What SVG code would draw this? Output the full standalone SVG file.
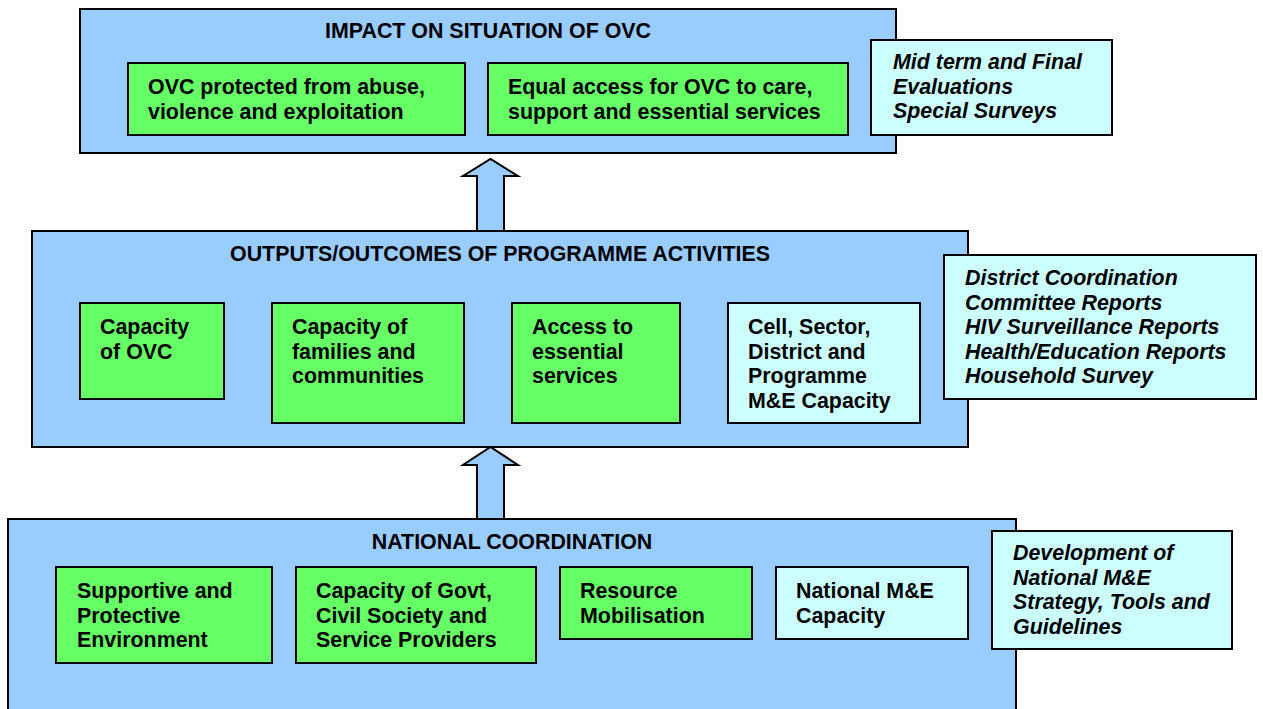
<svg xmlns="http://www.w3.org/2000/svg" width="1263" height="709" viewBox="0 0 1263 709">
<style>
.frame{fill:#99CCFF;stroke:#000;stroke-width:2}
.g{fill:#66FF66;stroke:#000;stroke-width:2}
.c{fill:#CCFFFF;stroke:#000;stroke-width:2}
.arrow{fill:#99CCFF;stroke:#000;stroke-width:2;stroke-linejoin:miter}
text{font-family:"Liberation Sans",Arial,sans-serif;font-weight:bold;font-size:21.4px;fill:#000}
.i{font-style:italic}
.t{text-anchor:middle}
</style>
<rect width="1263" height="709" fill="#fff"/>
<g id="impact">
<rect class="frame" x="80" y="9" width="816" height="144"/>
<text class="t" x="488" y="38">IMPACT ON SITUATION OF OVC</text>
</g>
<g id="protected">
<rect class="g" x="128" y="63" width="337" height="72"/>
<text x="148" y="94">OVC protected from abuse,</text>
<text x="148" y="118.5">violence and exploitation</text>
</g>
<g id="equal-access">
<rect class="g" x="488" y="63" width="360" height="72"/>
<text x="508" y="94">Equal access for OVC to care,</text>
<text x="508" y="118.5">support and essential services</text>
</g>
<g id="evaluations">
<rect class="c" x="871" y="40" width="241" height="95"/>
<text class="i" x="893" y="69">Mid term and Final</text>
<text class="i" x="893" y="93.5">Evaluations</text>
<text class="i" x="893" y="118">Special Surveys</text>
</g>
<g id="outputs">
<rect class="frame" x="32" y="231" width="936" height="216"/>
<text class="t" x="500" y="261">OUTPUTS/OUTCOMES OF PROGRAMME ACTIVITIES</text>
</g>
<g id="capacity-ovc">
<rect class="g" x="80" y="303" width="144" height="96"/>
<text x="100" y="334">Capacity</text>
<text x="100" y="358.5">of OVC</text>
</g>
<g id="capacity-families">
<rect class="g" x="272" y="303" width="192" height="120"/>
<text x="292" y="334">Capacity of</text>
<text x="292" y="358.5">families and</text>
<text x="292" y="383">communities</text>
</g>
<g id="access">
<rect class="g" x="512" y="303" width="168" height="120"/>
<text x="532" y="334">Access to</text>
<text x="532" y="358.5">essential</text>
<text x="532" y="383">services</text>
</g>
<g id="cell-me">
<rect class="c" x="728" y="303" width="192" height="120"/>
<text x="748" y="334">Cell, Sector,</text>
<text x="748" y="358.5">District and</text>
<text x="748" y="383">Programme</text>
<text x="748" y="407.5">M&amp;E Capacity</text>
</g>
<g id="district-reports">
<rect class="c" x="944" y="255" width="312" height="144"/>
<text class="i" x="965" y="285">District Coordination</text>
<text class="i" x="965" y="309.5">Committee Reports</text>
<text class="i" x="965" y="334">HIV Surveillance Reports</text>
<text class="i" x="965" y="358.5">Health/Education Reports</text>
<text class="i" x="965" y="383">Household Survey</text>
</g>
<g id="national">
<rect class="frame" x="8" y="519" width="1008" height="210"/>
<text class="t" x="512" y="549">NATIONAL COORDINATION</text>
</g>
<g id="supportive">
<rect class="g" x="56" y="567" width="216" height="96"/>
<text x="77" y="598">Supportive and</text>
<text x="77" y="622.5">Protective</text>
<text x="77" y="647">Environment</text>
</g>
<g id="capacity-govt">
<rect class="g" x="296" y="567" width="240" height="96"/>
<text x="316" y="598">Capacity of Govt,</text>
<text x="316" y="622.5">Civil Society and</text>
<text x="316" y="647">Service Providers</text>
</g>
<g id="resource">
<rect class="g" x="560" y="567" width="192" height="72"/>
<text x="580" y="598">Resource</text>
<text x="580" y="622.5">Mobilisation</text>
</g>
<g id="national-me">
<rect class="c" x="776" y="567" width="192" height="72"/>
<text x="796" y="598">National M&amp;E</text>
<text x="796" y="622.5">Capacity</text>
</g>
<g id="development">
<rect class="c" x="992" y="531" width="240" height="118"/>
<text class="i" x="1013" y="560">Development of</text>
<text class="i" x="1013" y="584.5">National M&amp;E</text>
<text class="i" x="1013" y="609">Strategy, Tools and</text>
<text class="i" x="1013" y="633.5">Guidelines</text>
</g>
<g id="connectors">
<path class="arrow" d="M477,231 L477,176 L463,176 L490.5,159 L518,176 L504,176 L504,231 Z"/>
<path class="arrow" d="M477,519 L477,465 L463,465 L490.5,447 L518,465 L504,465 L504,519 Z"/>
</g>
</svg>
